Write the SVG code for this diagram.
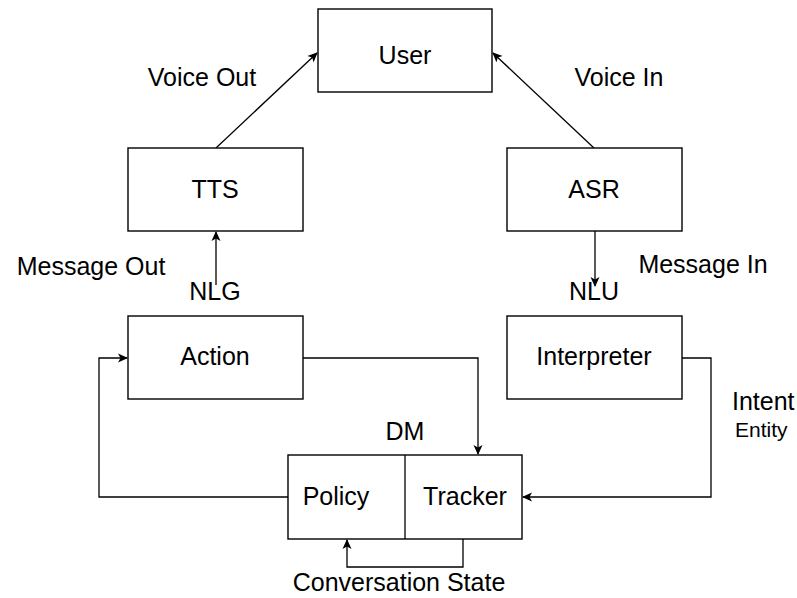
<svg xmlns="http://www.w3.org/2000/svg" width="797" height="598" viewBox="0 0 797 598">
  <defs>
    <marker id="arr" viewBox="0 0 10 10" refX="9" refY="5" markerWidth="10" markerHeight="10" markerUnits="userSpaceOnUse" orient="auto">
      <path d="M0,0.5 L10,5 L0,9.5 L2.5,5 Z" fill="#000"/>
    </marker>
  </defs>
  <style>
    .box { fill: #fff; stroke: #000; stroke-width: 1.4; }
    .edge { fill: none; stroke: #000; stroke-width: 1.3; }
    text { font-family: "Liberation Sans", Arial, sans-serif; font-size: 25px; fill: #000; }
    .c { text-anchor: middle; }
    .s { font-size: 21px; }
  </style>
  <rect width="797" height="598" fill="#fff"/>

  <g id="connectors">
    <line class="edge" x1="216" y1="148" x2="317" y2="53" marker-end="url(#arr)"/>
    <line class="edge" x1="594" y1="148" x2="493" y2="53" marker-end="url(#arr)"/>
    <line class="edge" x1="216" y1="285" x2="216" y2="232" marker-end="url(#arr)"/>
    <line class="edge" x1="595" y1="231" x2="595" y2="286" marker-end="url(#arr)"/>
    <polyline class="edge" points="303,358 478,358 478,454" marker-end="url(#arr)"/>
    <polyline class="edge" points="682,358 711,358 711,497 523,497" marker-end="url(#arr)"/>
    <polyline class="edge" points="288,497 99,497 99,358 127,358" marker-end="url(#arr)"/>
    <polyline class="edge" points="463,539 463,567 347,567 347,540" marker-end="url(#arr)"/>
  </g>

  <g id="user">
    <rect class="box" x="318" y="9" width="174" height="83"/>
    <text class="c" x="405" y="64">User</text>
  </g>
  <g id="tts">
    <rect class="box" x="128" y="148" width="175" height="83"/>
    <text class="c" x="215" y="198">TTS</text>
  </g>
  <g id="asr">
    <rect class="box" x="507" y="148" width="175" height="83"/>
    <text class="c" x="594" y="198">ASR</text>
  </g>
  <g id="action">
    <rect class="box" x="128" y="316" width="175" height="83"/>
    <text class="c" x="215" y="365">Action</text>
  </g>
  <g id="interpreter">
    <rect class="box" x="507" y="316" width="175" height="83"/>
    <text class="c" x="594" y="365">Interpreter</text>
  </g>
  <g id="dm">
    <rect class="box" x="288" y="455" width="234" height="84"/>
    <line class="edge" x1="405" y1="455" x2="405" y2="539"/>
    <text class="c" x="336" y="505">Policy</text>
    <text class="c" x="465" y="505">Tracker</text>
  </g>

  <g id="labels">
    <text class="c" x="202" y="86">Voice Out</text>
    <text class="c" x="619" y="86">Voice In</text>
    <text class="c" x="91" y="275">Message Out</text>
    <text class="c" x="215" y="300">NLG</text>
    <text class="c" x="703" y="273">Message In</text>
    <text class="c" x="594" y="300">NLU</text>
    <text class="c" x="405" y="440">DM</text>
    <text x="732" y="410">Intent</text>
    <text class="s" x="735" y="437">Entity</text>
    <text class="c" x="399" y="591">Conversation State</text>
  </g>
</svg>
